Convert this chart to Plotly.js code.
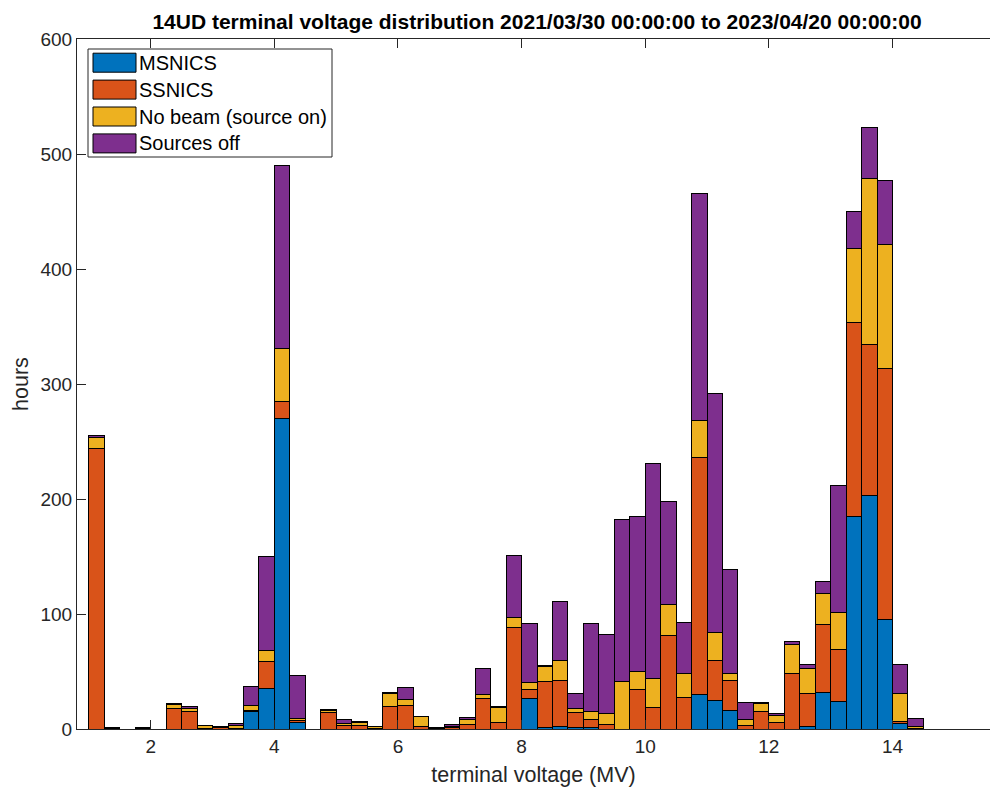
<!DOCTYPE html>
<html>
<head>
<meta charset="utf-8">
<script src="https://cdn.plot.ly/plotly-3.0.1.min.js"></script>
<style>
html, body { margin: 0; padding: 0; overflow: hidden; background: #fff; }
#chart { width: 990px; height: 791px; }
</style>
</head>
<body>
<div id="chart"></div>
<script>
// Bin centres (MV), bins of width 0.25 MV starting at 1.0 MV
const binCenters = [
  1.125, 1.375, 1.625, 1.875, 2.125, 2.375, 2.625, 2.875, 3.125, 3.375,
  3.625, 3.875, 4.125, 4.375, 4.625, 4.875, 5.125, 5.375, 5.625, 5.875,
  6.125, 6.375, 6.625, 6.875, 7.125, 7.375, 7.625, 7.875, 8.125, 8.375,
  8.625, 8.875, 9.125, 9.375, 9.625, 9.875, 10.125, 10.375, 10.625, 10.875,
  11.125, 11.375, 11.625, 11.875, 12.125, 12.375, 12.625, 12.875, 13.125, 13.375,
  13.625, 13.875, 14.125, 14.375
];
const binWidth = 0.25;

// hours per bin, by category
const msnics = [
  0, 0, 0, 0, 0, 0, 0, 0, 0, 0,
  15, 35.5, 270, 6, 0, 0, 0, 0, 0, 0,
  0, 0, 0, 0, 0, 0, 0, 0, 26.5, 1.4,
  2.3, 0.9, 1.4, 0, 0, 0, 0, 0, 0, 30,
  25, 16.5, 0, 0, 0, 0, 2, 32, 24, 185,
  203, 95.5, 4.5, 0
];
const ssnics = [
  244, 0.5, 0, 0.5, 0, 18, 15, 0.5, 1, 0.5,
  1, 23, 15, 1.5, 0, 14, 3, 3, 0.4, 19.7,
  20.5, 2, 0.4, 1.7, 4, 26.3, 5.5, 88, 7.6, 39.7,
  40, 13.3, 7.3, 4.1, 0, 34.7, 18.8, 81.3, 27.5, 206.5,
  35, 25.5, 3, 15.5, 6, 48.5, 29, 58.5, 45, 168.5,
  131, 218, 2, 0.5
];
const noBeam = [
  9.5, 0, 0, 0, 0, 3, 2.5, 2.5, 0.3, 2.5,
  4.5, 9.5, 46, 1.5, 0, 2, 1.7, 2.7, 1.6, 11.5,
  5, 8.7, 0, 0.3, 4.4, 3.5, 13.6, 9.2, 6.3, 13.3,
  17, 3.7, 6.3, 9.8, 41.1, 15.1, 25.2, 27.2, 21.1, 32,
  24, 6.5, 5, 7, 5.5, 25, 22, 27.5, 32, 64,
  145, 107.5, 24, 2
];
const sourcesOff = [
  2, 0.5, 0, 0.5, 0, 1.5, 2, 0.3, 1, 2,
  16.3, 82, 159, 37.5, 0, 1, 4, 0.6, 0, 0.5,
  11, 0.3, 1, 1.8, 1.4, 22.6, 0.6, 53.3, 51.4, 1.2,
  51.3, 13.1, 77, 68.6, 141.5, 135.4, 187.3, 89.2, 44.3, 197.5,
  208, 90.5, 15, 0.7, 2, 3, 3, 10.5, 111, 32.5,
  44, 56, 26, 6.5
];

const seriesNames = ["MSNICS", "SSNICS", "No beam (source on)", "Sources off"];
const seriesColors = ["#0072BD", "#D95319", "#EDB120", "#7E2F8E"];
const seriesData = [msnics, ssnics, noBeam, sourcesOff];

const titleText = "14UD terminal voltage distribution 2021/03/30 00:00:00 to 2023/04/20 00:00:00";
const xTitle = "terminal voltage (MV)";
const yTitle = "hours";
const xTickVals = [2, 4, 6, 8, 10, 12, 14];
const yTickVals = [0, 100, 200, 300, 400, 500, 600];

const FONT = '"Liberation Sans", Arial, Helvetica, sans-serif';
const AX = '#262626';

const traces = seriesData.map((vals, i) => ({
  type: 'bar',
  name: seriesNames[i],
  x: binCenters,
  y: vals,
  width: binWidth,
  marker: { color: seriesColors[i], line: { color: '#000000', width: 1 } },
  showlegend: false,
  hoverinfo: 'x+y+name'
}));

// plot-area geometry (px); the axes box runs past the right edge of the figure
const FW = 990, FH = 791;
const L = 77, T = 39, W = FW - L, H = 690;
const px = x => (x - L) / W;
const py = y => (T + H - y) / H;

const shapes = [];
const annotations = [];
// MATLAB-style legend box
shapes.push({ type: 'rect', xref: 'paper', yref: 'paper',
  x0: px(88), x1: px(332), y0: py(157), y1: py(49),
  fillcolor: '#ffffff', line: { color: AX, width: 1 } });
seriesNames.forEach((name, i) => {
  const cy = 62.7 + i * 26.9;
  shapes.push({ type: 'rect', xref: 'paper', yref: 'paper',
    x0: px(93), x1: px(136), y0: py(cy + 9.5), y1: py(cy - 9.5),
    fillcolor: seriesColors[i], line: { color: '#000000', width: 1 } });
  annotations.push({ xref: 'paper', yref: 'paper', x: px(137), y: py(cy),
    xanchor: 'left', yanchor: 'middle', showarrow: false, text: name,
    font: { family: FONT, size: 20, color: '#000000' } });
});

const layout = {
  width: FW, height: FH,
  margin: { l: L, r: 0, t: T, b: FH - T - H },
  paper_bgcolor: '#ffffff', plot_bgcolor: '#ffffff',
  barmode: 'stack', bargap: 0,
  font: { family: FONT, color: AX },
  title: { text: '<b>' + titleText + '</b>', font: { family: FONT, size: 21, color: '#000000' },
    x: 537 / FW, xanchor: 'center', y: 1 - 22 / FH, yanchor: 'middle', yref: 'container' },
  xaxis: {
    range: [0.807, 0.807 + W / 61.81], tickvals: xTickVals, ticktext: xTickVals.map(String),
    ticks: 'inside', ticklen: 9, tickwidth: 1, tickcolor: AX,
    showline: true, linecolor: AX, linewidth: 1, mirror: 'ticks',
    showgrid: false, zeroline: false,
    tickfont: { family: FONT, size: 19, color: AX },
    title: { text: xTitle, font: { family: FONT, size: 21.5, color: AX }, standoff: 11 }
  },
  yaxis: {
    range: [0, 600], tickvals: yTickVals, ticktext: yTickVals.map(String),
    ticks: 'inside', ticklen: 9, tickwidth: 1, tickcolor: AX,
    showline: true, linecolor: AX, linewidth: 1, mirror: false,
    showgrid: false, zeroline: false,
    tickfont: { family: FONT, size: 19, color: AX },
    title: { text: yTitle, font: { family: FONT, size: 21.5, color: AX }, standoff: 5 }
  },
  shapes: shapes,
  annotations: annotations,
  showlegend: false
};

Plotly.newPlot('chart', traces, layout, { staticPlot: true, displayModeBar: false });
</script>
</body>
</html>
